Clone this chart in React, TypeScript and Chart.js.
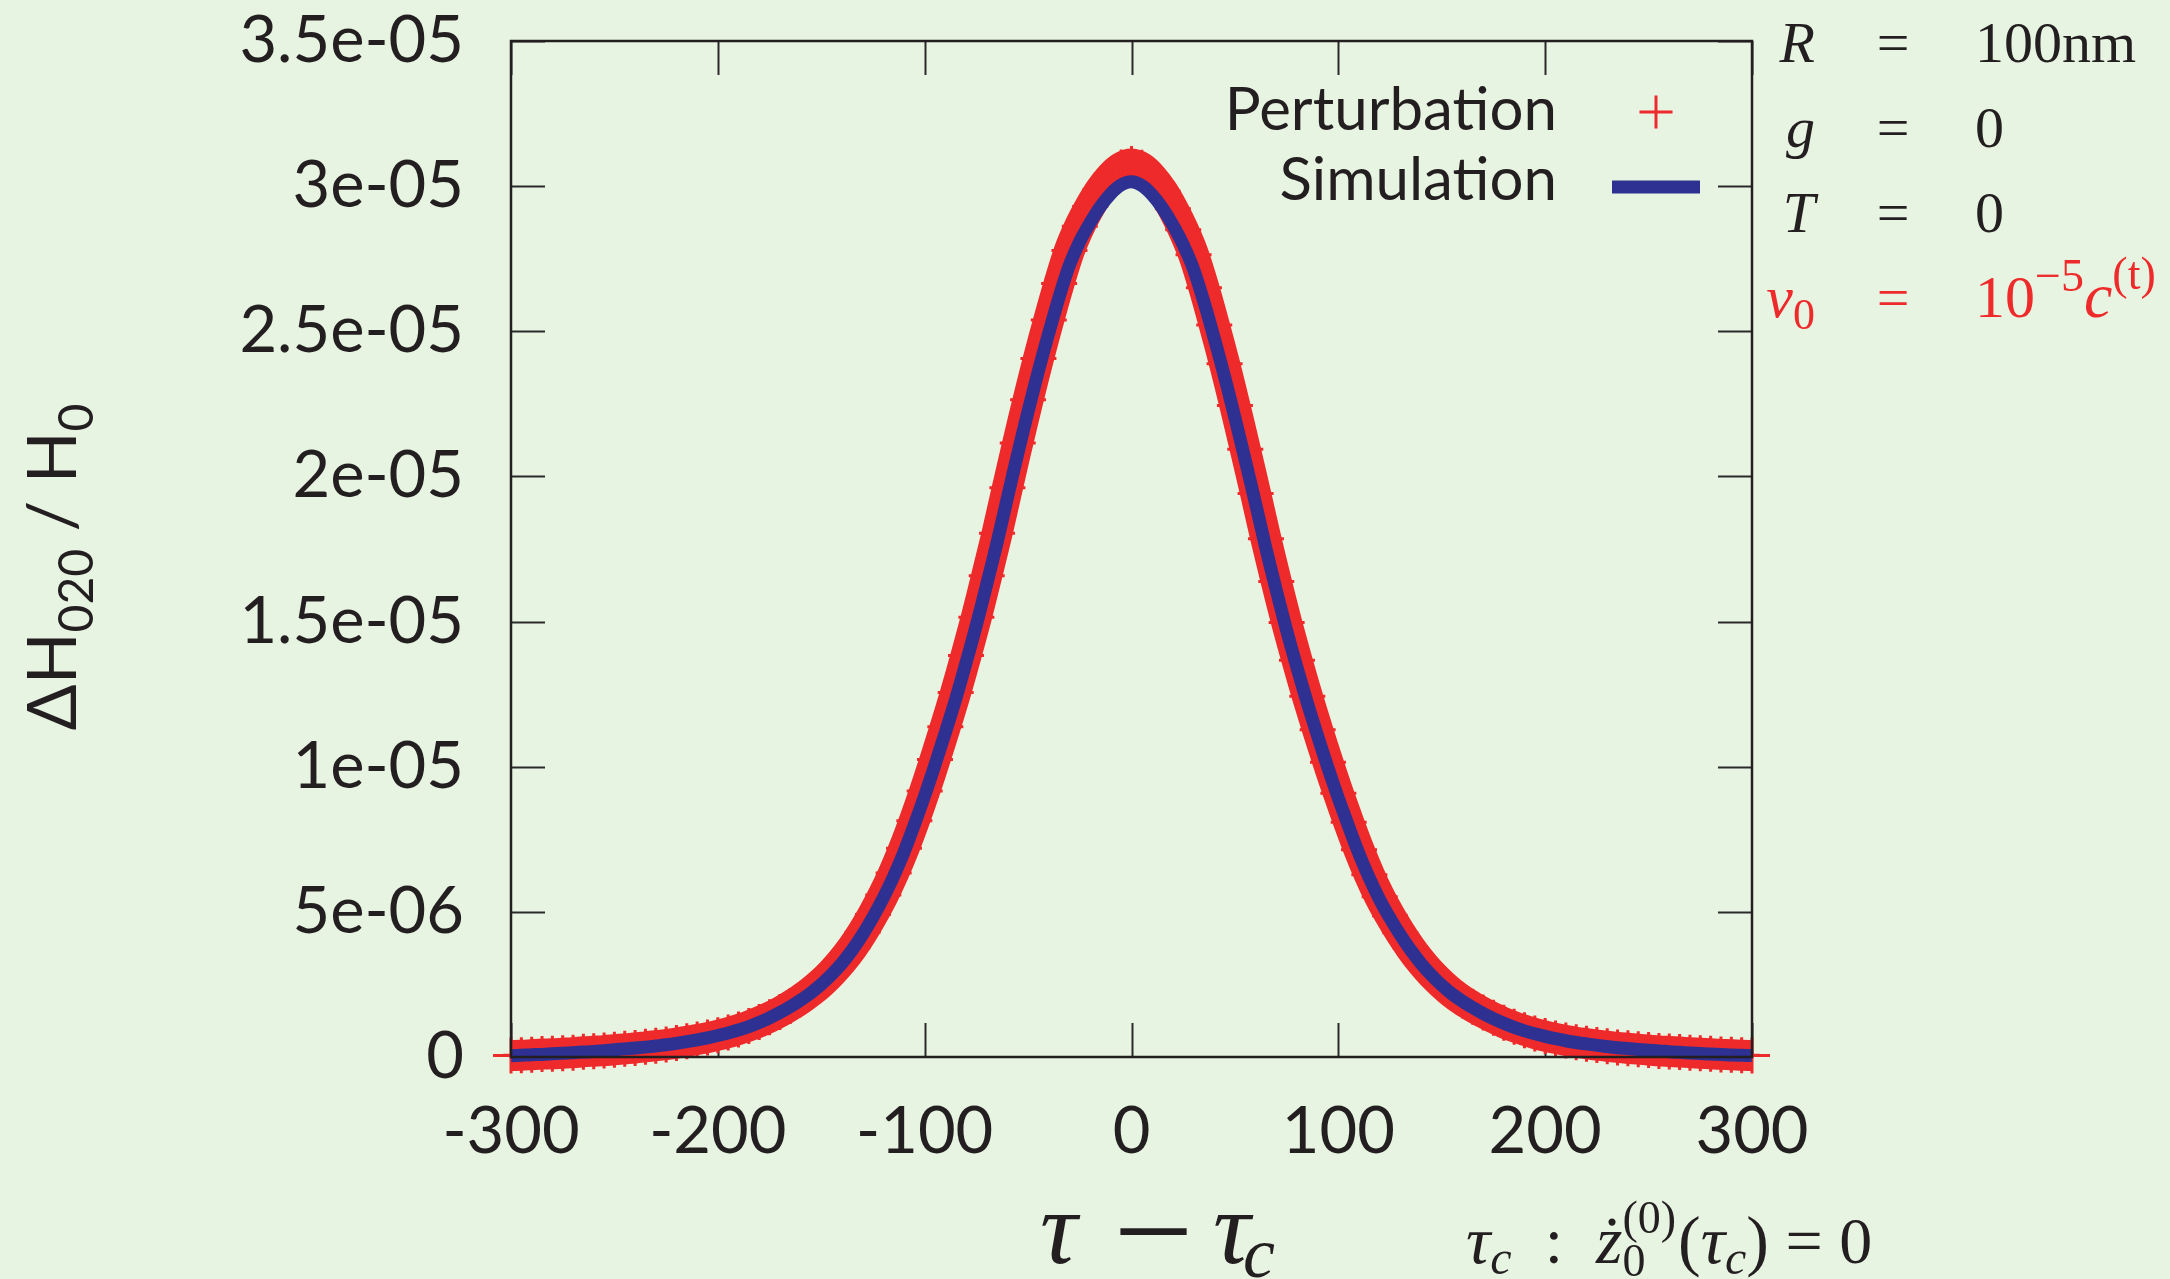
import React, { useEffect, useRef } from 'react';
import { Chart, registerables } from 'chart.js';

Chart.register(...registerables);

// tau - tau_c
const TAU = [
  -300, -295, -290, -285, -280, -275, -270, -265, -260, -255, -250, -245, -240, -235, -230, -225, -220, -215, -210, -205,
  -200, -195, -190, -185, -180, -175, -170, -165, -160, -155, -150, -145, -140, -135, -130, -125, -120, -115, -110, -105,
  -100, -95, -90, -85, -80, -75, -70, -65, -60, -55, -50, -45, -40, -35, -30, -25, -20, -15, -10, -5,
  0, 5, 10, 15, 20, 25, 30, 35, 40, 45, 50, 55, 60, 65, 70, 75, 80, 85, 90, 95,
  100, 105, 110, 115, 120, 125, 130, 135, 140, 145, 150, 155, 160, 165, 170, 175, 180, 185, 190, 195,
  200, 205, 210, 215, 220, 225, 230, 235, 240, 245, 250, 255, 260, 265, 270, 275, 280, 285, 290, 295, 300,
];

// ΔH020 / H0 in units of 1e-6
const SIMULATION = [
  0.04, 0.06, 0.08, 0.09, 0.11, 0.13, 0.15, 0.17, 0.19, 0.22, 0.25, 0.28, 0.31, 0.34, 0.38, 0.42, 0.47, 0.53, 0.59, 0.66,
  0.74, 0.83, 0.93, 1.05, 1.19, 1.35, 1.53, 1.73, 1.96, 2.21, 2.5, 2.84, 3.23, 3.69, 4.22, 4.82, 5.48, 6.22, 7.06, 8.0,
  9.0, 10.07, 11.18, 12.33, 13.58, 14.88, 16.28, 17.72, 19.26, 20.78, 22.24, 23.64, 24.94, 26.18, 27.28, 28.1, 28.74, 29.3, 29.74, 30.04,
  30.15, 30.02, 29.7, 29.24, 28.66, 27.98, 27.14, 26.02, 24.76, 23.44, 22.02, 20.56, 19.06, 17.52, 16.08, 14.7, 13.42, 12.2, 11.06, 9.96,
  8.92, 7.94, 7.0, 6.16, 5.42, 4.78, 4.2, 3.68, 3.22, 2.82, 2.47, 2.17, 1.92, 1.7, 1.5, 1.32, 1.16, 1.02, 0.9, 0.8,
  0.71, 0.63, 0.56, 0.5, 0.45, 0.4, 0.36, 0.32, 0.29, 0.26, 0.23, 0.21, 0.18, 0.16, 0.14, 0.12, 0.1, 0.09, 0.07, 0.06, 0.05,
];

const PERTURBATION = [
  0.05, 0.06, 0.08, 0.1, 0.11, 0.13, 0.15, 0.18, 0.2, 0.22, 0.25, 0.28, 0.31, 0.35, 0.39, 0.43, 0.48, 0.54, 0.6, 0.67,
  0.75, 0.84, 0.95, 1.07, 1.21, 1.37, 1.55, 1.76, 1.99, 2.25, 2.55, 2.9, 3.3, 3.76, 4.3, 4.91, 5.58, 6.34, 7.19, 8.14,
  9.16, 10.25, 11.38, 12.56, 13.83, 15.15, 16.58, 18.04, 19.61, 21.15, 22.64, 24.06, 25.39, 26.65, 27.78, 28.62, 29.3, 29.88, 30.33, 30.64,
  30.76, 30.63, 30.3, 29.83, 29.22, 28.5, 27.64, 26.5, 25.22, 23.88, 22.44, 20.94, 19.41, 17.85, 16.38, 14.97, 13.67, 12.43, 11.27, 10.15,
  9.09, 8.09, 7.14, 6.28, 5.52, 4.87, 4.28, 3.75, 3.28, 2.87, 2.52, 2.21, 1.95, 1.73, 1.53, 1.35, 1.18, 1.04, 0.92, 0.81,
  0.72, 0.64, 0.57, 0.51, 0.46, 0.41, 0.37, 0.33, 0.3, 0.27, 0.24, 0.21, 0.19, 0.17, 0.15, 0.13, 0.11, 0.09, 0.08, 0.06, 0.05,
];

const Y_TICK_LABELS = ['0', '5e-06', '1e-05', '1.5e-05', '2e-05', '2.5e-05', '3e-05', '3.5e-05'];
const LEGEND_LABELS = ['Perturbation', 'Simulation'];

const BG = '#e8f4e2';
const RED = '#ee2a2b';
const BLUE = '#2e3192';
const INK = '#231f20';
const SANS = 'Lato, "Open Sans", sans-serif';
const SERIF = '"Liberation Serif", "DejaVu Serif", serif';

type Run = { t: string; f: string; dy?: number };

function runsWidth(ctx: CanvasRenderingContext2D, runs: Run[]) {
  let w = 0;
  for (const r of runs) {
    ctx.font = r.f;
    w += ctx.measureText(r.t).width;
  }
  return w;
}

function drawRuns(ctx: CanvasRenderingContext2D, x: number, y: number, runs: Run[]) {
  for (const r of runs) {
    ctx.font = r.f;
    ctx.fillText(r.t, x, y + (r.dy || 0));
    x += ctx.measureText(r.t).width;
  }
  return x;
}

const overlay = {
  id: 'overlay',
  beforeDraw(chart: any) {
    const ctx = chart.ctx as CanvasRenderingContext2D;
    ctx.save();
    ctx.fillStyle = BG;
    ctx.fillRect(0, 0, chart.width, chart.height);
    ctx.restore();
  },
  beforeDatasetsDraw(chart: any) {
    const ctx = chart.ctx as CanvasRenderingContext2D;
    const { left, right, top, bottom } = chart.chartArea;
    const xs = chart.scales.x;
    const ys = chart.scales.y;
    const L = 34;
    ctx.save();
    ctx.strokeStyle = '#2a2a2a';
    ctx.lineWidth = 2;
    ctx.beginPath();
    xs.ticks.forEach((t: any) => {
      const px = Math.round(xs.getPixelForValue(t.value)) + 0.5;
      ctx.moveTo(px, bottom);
      ctx.lineTo(px, bottom - L);
      ctx.moveTo(px, top);
      ctx.lineTo(px, top + L);
    });
    ys.ticks.forEach((t: any) => {
      const py = Math.round(ys.getPixelForValue(t.value)) + 0.5;
      ctx.moveTo(left, py);
      ctx.lineTo(left + L, py);
      ctx.moveTo(right, py);
      ctx.lineTo(right - L, py);
    });
    ctx.stroke();
    ctx.restore();
  },
  afterDatasetsDraw(chart: any) {
    const ctx = chart.ctx as CanvasRenderingContext2D;
    const { left, right, top, bottom } = chart.chartArea;
    ctx.save();
    ctx.strokeStyle = INK;
    ctx.lineWidth = 2.5;
    ctx.strokeRect(left, top, right - left, bottom - top);
    ctx.restore();
  },
  afterDraw(chart: any) {
    const ctx = chart.ctx as CanvasRenderingContext2D;
    ctx.save();
    ctx.textBaseline = 'alphabetic';

    // legend
    ctx.fillStyle = INK;
    ctx.textAlign = 'right';
    ctx.font = `60px ${SANS}`;
    ctx.fillText(LEGEND_LABELS[0], 1557, 130);
    ctx.fillText(LEGEND_LABELS[1], 1557, 200);
    ctx.strokeStyle = RED;
    ctx.lineWidth = 3;
    ctx.beginPath();
    ctx.moveTo(1656 - 16.5, 112);
    ctx.lineTo(1656 + 16.5, 112);
    ctx.moveTo(1656, 112 - 16.5);
    ctx.lineTo(1656, 112 + 16.5);
    ctx.stroke();
    ctx.strokeStyle = BLUE;
    ctx.lineWidth = 13;
    ctx.beginPath();
    ctx.moveTo(1612, 187);
    ctx.lineTo(1700, 187);
    ctx.stroke();

    // y axis title (rotated)
    ctx.textAlign = 'left';
    const yRuns: Run[] = [
      { t: '\u0394H', f: `68px ${SANS}` },
      { t: '020', f: `48px ${SANS}`, dy: 17 },
      { t: ' / H', f: `68px ${SANS}` },
      { t: '0', f: `48px ${SANS}`, dy: 17 },
    ];
    ctx.save();
    ctx.translate(76, 567);
    ctx.rotate(-Math.PI / 2);
    ctx.fillStyle = INK;
    const yw = runsWidth(ctx, yRuns);
    drawRuns(ctx, -yw / 2, 0, yRuns);
    ctx.restore();

    // x axis title: tau - tau_c
    ctx.fillStyle = INK;
    ctx.font = `italic 104px ${SERIF}`;
    ctx.fillText('\u03C4', 1040, 1263);
    ctx.font = `94px "Liberation Sans", sans-serif`;
    ctx.save();
    ctx.translate(1114, 0);
    ctx.scale(1.45, 1);
    ctx.fillText('\u2212', 0, 1263);
    ctx.restore();
    ctx.font = `italic 104px ${SERIF}`;
    ctx.fillText('\u03C4', 1213, 1263);
    ctx.font = `italic 72px ${SERIF}`;
    ctx.fillText('c', 1243, 1277);

    // condition annotation
    let x = drawRuns(ctx, 1466, 1263, [
      { t: '\u03C4', f: `italic 68px ${SERIF}` },
      { t: 'c', f: `italic 48px ${SERIF}`, dy: 11 },
      { t: '\u2002:\u2002', f: `66px ${SERIF}` },
      { t: '\u017C', f: `italic 68px ${SERIF}` },
    ]);
    ctx.font = `46px ${SERIF}`;
    ctx.fillText('0', x, 1263 + 13);
    ctx.fillText('(0)', x, 1263 - 30);
    x += ctx.measureText('(0)').width + 2;
    drawRuns(ctx, x, 1263, [
      { t: '(', f: `68px ${SERIF}` },
      { t: '\u03C4', f: `italic 68px ${SERIF}` },
      { t: 'c', f: `italic 48px ${SERIF}`, dy: 11 },
      { t: ')', f: `68px ${SERIF}` },
      { t: ' = 0', f: `66px ${SERIF}` },
    ]);

    // parameter block
    const rows: { v: Run[]; val: Run[]; color: string; y: number }[] = [
      { v: [{ t: 'R', f: `italic 58px ${SERIF}` }], val: [{ t: '100nm', f: `58px ${SERIF}` }], color: INK, y: 62 },
      { v: [{ t: 'g', f: `italic 58px ${SERIF}` }], val: [{ t: '0', f: `58px ${SERIF}` }], color: INK, y: 147 },
      { v: [{ t: 'T', f: `italic 58px ${SERIF}` }], val: [{ t: '0', f: `58px ${SERIF}` }], color: INK, y: 232 },
      {
        v: [
          { t: 'v', f: `italic 60px ${SERIF}` },
          { t: '0', f: `44px ${SERIF}`, dy: 12 },
        ],
        val: [
          { t: '10', f: `60px ${SERIF}` },
          { t: '\u22125', f: `46px ${SERIF}`, dy: -26 },
          { t: 'c', f: `italic 64px ${SERIF}` },
          { t: '(t)', f: `46px ${SERIF}`, dy: -28 },
        ],
        color: RED,
        y: 317,
      },
    ];
    rows.forEach((r) => {
      ctx.fillStyle = r.color;
      const w = runsWidth(ctx, r.v);
      drawRuns(ctx, 1815 - w, r.y, r.v);
      ctx.font = `58px ${SERIF}`;
      ctx.textAlign = 'center';
      ctx.fillText('=', 1893, r.y);
      ctx.textAlign = 'left';
      drawRuns(ctx, 1975, r.y, r.val);
    });

    ctx.restore();
  },
};

export default function App() {
  const canvasRef = useRef<HTMLCanvasElement | null>(null);

  useEffect(() => {
    document.body.style.margin = '0';
    document.body.style.background = BG;
    const canvas = canvasRef.current;
    if (!canvas) return;
    const chart = new Chart(canvas, {
      type: 'line',
      data: {
        datasets: [
          {
            label: LEGEND_LABELS[1],
            data: TAU.map((x, i) => ({ x, y: SIMULATION[i] })),
            borderColor: BLUE,
            backgroundColor: BLUE,
            borderWidth: 13,
            borderJoinStyle: 'round',
            pointRadius: 0,
            tension: 0.3,
            clip: false,
            order: 0,
          },
          {
            label: LEGEND_LABELS[0],
            data: TAU.map((x, i) => ({ x, y: PERTURBATION[i] })),
            borderColor: RED,
            backgroundColor: RED,
            borderWidth: 31,
            borderJoinStyle: 'round',
            tension: 0.3,
            pointStyle: 'cross',
            pointRadius: 18,
            pointBorderWidth: 3,
            pointBorderColor: RED,
            pointBackgroundColor: RED,
            clip: false,
            order: 1,
          },
        ],
      } as any,
      options: {
        animation: false,
        responsive: false,
        devicePixelRatio: 1,
        events: [],
        layout: { padding: { left: 0, right: 418, top: 41, bottom: 0 } },
        plugins: { legend: { display: false }, tooltip: { enabled: false } },
        scales: {
          x: {
            type: 'linear',
            min: -300,
            max: 300,
            grid: { display: false, drawTicks: false, tickLength: 0 },
            border: { display: false },
            ticks: {
              stepSize: 100,
              autoSkip: false,
              padding: 36,
              color: INK,
              font: { family: SANS, size: 65 },
              callback: (v: any) => String(v),
            },
            afterFit: (s: any) => {
              s.height = 222;
              s.paddingLeft = 0;
              s.paddingRight = 0;
            },
          },
          y: {
            type: 'linear',
            min: 0,
            max: 35,
            grid: { display: false, drawTicks: false, tickLength: 0 },
            border: { display: false },
            ticks: {
              stepSize: 5,
              autoSkip: false,
              padding: 47,
              color: INK,
              font: { family: SANS, size: 65 },
              callback: (_v: any, i: number) => Y_TICK_LABELS[i],
            },
            afterFit: (s: any) => {
              s.width = 511;
              s.paddingTop = 0;
              s.paddingBottom = 0;
            },
          },
        },
      } as any,
      plugins: [overlay],
    });
    return () => chart.destroy();
  }, []);

  return (
    <canvas
      ref={canvasRef}
      width={2170}
      height={1279}
      style={{ position: 'absolute', left: 0, top: 0, width: 2170, height: 1279, display: 'block' }}
    />
  );
}
